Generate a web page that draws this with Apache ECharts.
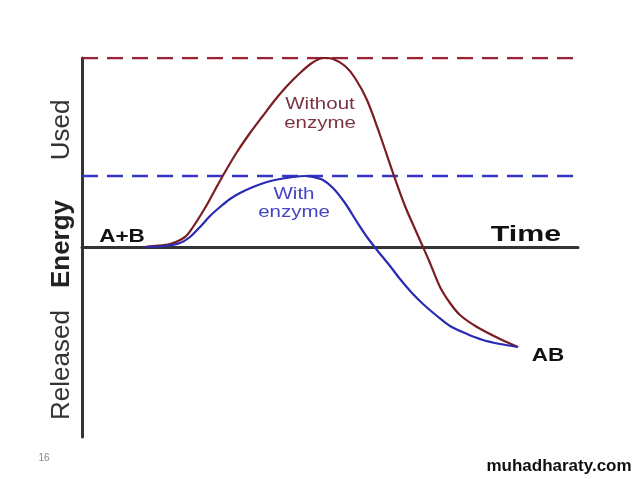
<!DOCTYPE html>
<html>
<head>
<meta charset="utf-8">
<script src="https://cdn.jsdelivr.net/npm/echarts@6/dist/echarts.min.js"></script>
<style>html,body{margin:0;padding:0;background:#fff}#c{width:638px;height:479px}</style>
</head>
<body>
<div id="c"></div>
<script>
// time (arbitrary units) and energy (arbitrary units, 0 = reactants level)
const withoutTime   = [63,71,88,103,111,123,133,143,155,168,180,193,205,218,230,241,251,263,273,285,298,311,323,333,341,348,358,368,378,395,418,436];
const withoutEnergy = [0,1,3,10,20,39,57,75,95,114,130,147,161,174,184,189,188,181,169,147,112,74,41,18,0,-16,-40,-56,-68,-80,-92,-100];
const withTime   = [63,83,98,108,118,128,138,148,158,171,185,198,211,223,231,241,251,263,275,285,295,308,318,330,341,355,368,385,401,418,436];
const withEnergy = [0,1,4,10,20,31,40,48,54,60,65,68,70,71,70,67,59,44,25,10,-3,-19,-32,-46,-57,-69,-79,-87,-93,-97,-100];
const activationLevels = { without: 189, with: 71 };
const timeRange = [0, 496];
const energyRange = [-190, 189];

const pair = (xs, ys) => xs.map((x, i) => [x, ys[i]]);
const FONT = 'Liberation Sans, Arial, sans-serif';

const chart = echarts.init(document.getElementById('c'), null, { renderer: 'canvas' });
chart.setOption({
  animation: false,
  backgroundColor: '#fff',
  grid: { left: 82, top: 58, right: 60, bottom: 42 },
  xAxis: {
    type: 'value', min: timeRange[0], max: timeRange[1],
    axisLine: { onZero: true, lineStyle: { color: '#333', width: 3 } },
    axisTick: { show: false }, axisLabel: { show: false }, splitLine: { show: false }
  },
  yAxis: {
    type: 'value', min: energyRange[0], max: energyRange[1],
    axisLine: { show: true, lineStyle: { color: '#333', width: 3 } },
    axisTick: { show: false }, axisLabel: { show: false }, splitLine: { show: false }
  },
  series: [
    { type: 'line', data: [[timeRange[0], activationLevels.without], [timeRange[1], activationLevels.without]],
      symbol: 'none', lineStyle: { color: '#9a2234', width: 2.5, type: [16, 9] }, z: 1 },
    { type: 'line', data: [[timeRange[0], activationLevels.with], [timeRange[1], activationLevels.with]],
      symbol: 'none', lineStyle: { color: '#3535c8', width: 2.5, type: [16, 9] }, z: 1 },
    { type: 'line', data: pair(withoutTime, withoutEnergy), smooth: 0.3, symbol: 'none',
      lineStyle: { color: '#7a1e22', width: 2.2 }, z: 3 },
    { type: 'line', data: pair(withTime, withEnergy), smooth: 0.3, symbol: 'none',
      lineStyle: { color: '#2a2ab4', width: 2.2 }, z: 3 }
  ],
  graphic: [
    { type: 'text', x: 62, y: 130, rotation: Math.PI / 2,
      style: { text: 'Used', font: '26px ' + FONT, fill: '#333', textAlign: 'center', textVerticalAlign: 'middle' } },
    { type: 'text', x: 62, y: 244, rotation: Math.PI / 2,
      style: { text: 'Energy', font: 'bold 26px ' + FONT, fill: '#222', textAlign: 'center', textVerticalAlign: 'middle' } },
    { type: 'text', x: 62, y: 365, rotation: Math.PI / 2,
      style: { text: 'Released', font: '26px ' + FONT, fill: '#333', textAlign: 'center', textVerticalAlign: 'middle' } },
    { type: 'text', x: 122, y: 237, scaleX: 1.25,
      style: { text: 'A+B', font: 'bold 18px ' + FONT, fill: '#111', textAlign: 'center', textVerticalAlign: 'middle' } },
    { type: 'text', x: 526, y: 235, scaleX: 1.38,
      style: { text: 'Time', font: 'bold 22px ' + FONT, fill: '#111', textAlign: 'center', textVerticalAlign: 'middle' } },
    { type: 'text', x: 548, y: 356, scaleX: 1.25,
      style: { text: 'AB', font: 'bold 18px ' + FONT, fill: '#111', textAlign: 'center', textVerticalAlign: 'middle' } },
    { type: 'text', x: 320, y: 105, scaleX: 1.28,
      style: { text: 'Without', font: '16px ' + FONT, fill: '#7a3444', textAlign: 'center', textVerticalAlign: 'middle' } },
    { type: 'text', x: 320, y: 124, scaleX: 1.28,
      style: { text: 'enzyme', font: '16px ' + FONT, fill: '#7a3444', textAlign: 'center', textVerticalAlign: 'middle' } },
    { type: 'text', x: 294, y: 195, scaleX: 1.28,
      style: { text: 'With', font: '16px ' + FONT, fill: '#4444c4', textAlign: 'center', textVerticalAlign: 'middle' } },
    { type: 'text', x: 294, y: 213, scaleX: 1.28,
      style: { text: 'enzyme', font: '16px ' + FONT, fill: '#4444c4', textAlign: 'center', textVerticalAlign: 'middle' } },
    { type: 'text', x: 44, y: 458,
      style: { text: '16', font: '10px ' + FONT, fill: '#888', textAlign: 'center', textVerticalAlign: 'middle' } },
    { type: 'text', x: 559, y: 466,
      style: { text: 'muhadharaty.com', font: 'bold 17px ' + FONT, fill: '#111', textAlign: 'center', textVerticalAlign: 'middle' } }
  ]
});
</script>
</body>
</html>
